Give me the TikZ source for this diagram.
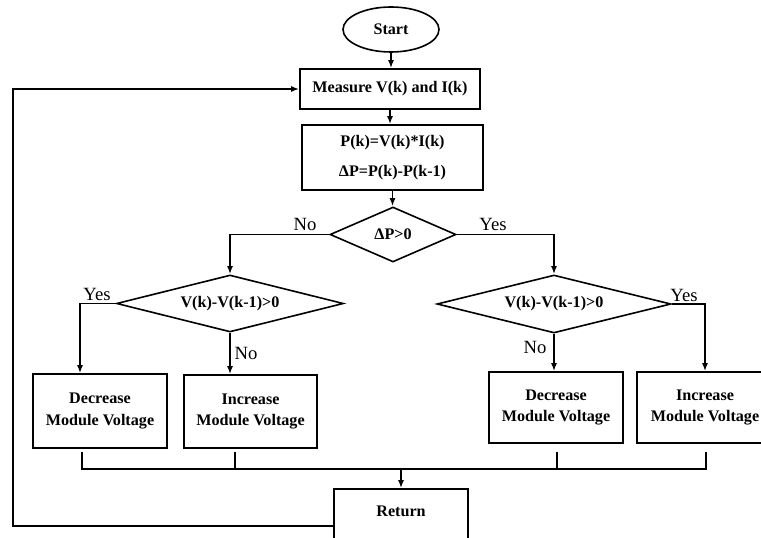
\documentclass[tikz,border=0pt]{standalone}
\usepackage{fontspec}
\setmainfont{Liberation Serif}
\usetikzlibrary{shapes.geometric,arrows.meta,calc}
\begin{document}
\begin{tikzpicture}[x=0.75pt,y=-0.75pt,
  line width=1.2pt,
  every node/.style={font=\fontsize{12.1}{14.5}\selectfont\bfseries},
  box/.style={draw, rectangle, align=center, inner sep=0pt},
  dec/.style={draw, diamond, inner sep=0pt, aspect=4},
  lbl/.style={font=\fontsize{14}{16}\selectfont, inner sep=0pt},
  arr/.style={-{Latex[length=6pt,width=4.5pt]}}]
\clip (0,0) rectangle (761,538);
\useasboundingbox (0,0) rectangle (761,538);
% nodes
\node[draw, ellipse, minimum width=72pt, minimum height=33.75pt, inner sep=0pt] (start) at (391,29.5) {Start};
\node[box, minimum width=135pt, minimum height=30pt] (meas) at (390,89) {Measure V(k) and I(k)};
\node[box, minimum width=135.75pt, minimum height=48.75pt] (pk) at (392.5,157.5) {P(k)=V(k)*I(k)\\[7.5pt]ΔP=P(k)-P(k-1)};
\node[dec, aspect=2.3, minimum width=94.5pt, minimum height=41.25pt] (d1) at (393,234.5) {ΔP>0};
\node[dec, minimum width=170.25pt, minimum height=42.75pt] (d2) at (230,303.5) {V(k)-V(k-1)>0};
\node[dec, minimum width=175.5pt, minimum height=43.5pt] (d3) at (554,304) {V(k)-V(k-1)>0};
\node[box, minimum width=100.5pt, minimum height=55.5pt] (b1) at (100,411) {Decrease\\[1.5pt]Module Voltage};
\node[box, minimum width=99.75pt, minimum height=54.75pt] (b2) at (250.5,411.5) {Increase\\[1.5pt]Module Voltage};
\node[box, minimum width=100.5pt, minimum height=53.25pt] (b3) at (556,407.5) {Decrease\\[1.5pt]Module Voltage};
\node[box, minimum width=102pt, minimum height=53.25pt] (b4) at (705,407.5) {Increase\\[1.5pt]Module Voltage};
\node[box, minimum width=100.5pt, minimum height=55.5pt] (ret) at (401,526) {};
\node (rettext) at (401,511) {Return};
% labels
\node[lbl] (no1) at (305,224) {No};
\node[lbl] (yes1) at (493,224) {Yes};
\node[lbl] (yes2) at (97,294) {Yes};
\node[lbl] (no2) at (246,353) {No};
\node[lbl] (no3) at (535,347) {No};
\node[lbl] (yes3) at (684,295) {Yes};
% helper coordinates
\coordinate (xl) at (80,0);
\coordinate (lx) at (13,0);
\coordinate (bus) at (0,469);
\coordinate (c1) at (82,452);
\coordinate (c2) at (235,452);
\coordinate (c3) at (557,452);
\coordinate (c4) at (706,452);
% connectors
\draw[arr] (start.south) -- (start.south |- meas.north);
\draw[arr] (meas.south) -- (meas.south |- pk.north);
\draw[arr] (pk.south) -- (pk.south |- d1.north);
\draw[arr] (d1.west) -| (d2.north);
\draw[arr] (d1.east) -| (d3.north);
\draw[arr] (d2.west) -| (xl |- b1.north);
\draw[arr] (d2.south) -- (d2.south |- b2.north);
\draw[arr] (d3.south) -- (d3.south |- b3.north);
\draw[arr] (d3.east) -| (b4.north);
\draw (c1) -- (c1 |- bus) -- (c4 |- bus) -- (c4);
\draw (c2) -- (c2 |- bus);
\draw (c3) -- (c3 |- bus);
\draw[arr] (ret.north |- bus) -- (ret.north);
\draw[arr] (ret.west) -- (ret.west -| lx) -- (lx |- meas.west) -- (meas.west);
\end{tikzpicture}
\end{document}
